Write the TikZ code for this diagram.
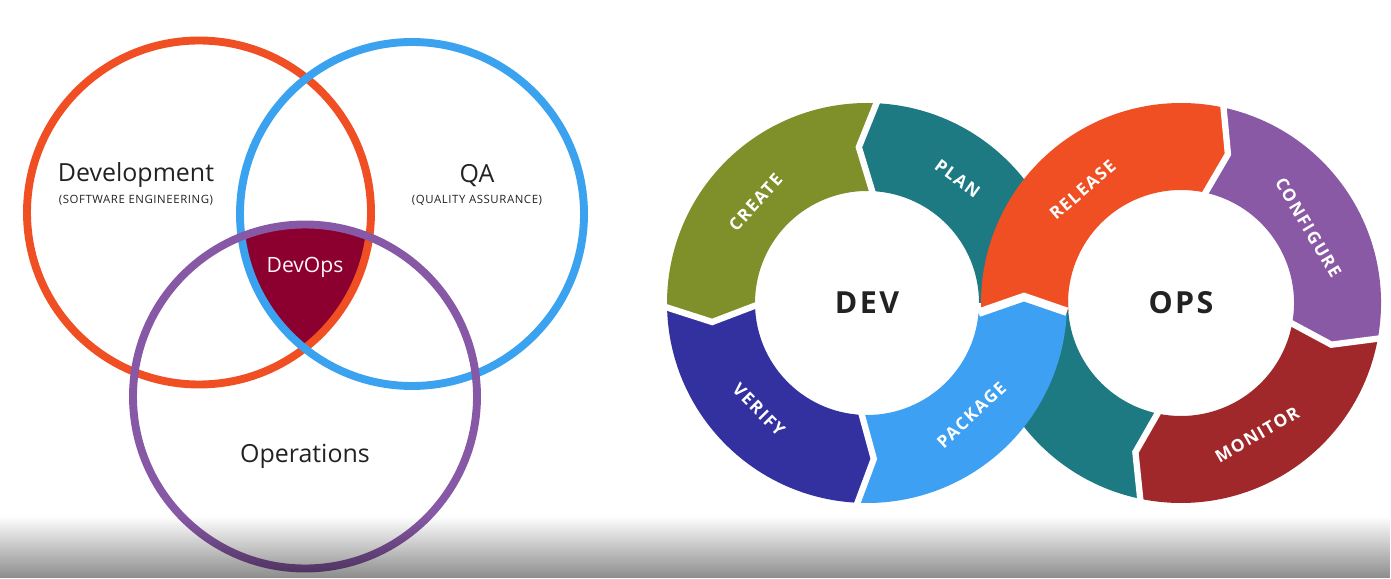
\documentclass[tikz,border=0pt]{standalone}
\usepackage{fontspec}
\setmainfont{Open Sans}
\usepackage{tikz}
\usetikzlibrary{fadings}

\definecolor{orangedev}{HTML}{F04E23}
\definecolor{bleuqa}{HTML}{3BA2F0}
\definecolor{violetops}{HTML}{8758A5}
\definecolor{bordeaux}{HTML}{8C0030}
\definecolor{olive}{HTML}{7F8F29}
\definecolor{sarcelle}{HTML}{1D7A83}
\definecolor{indigo}{HTML}{3331A0}
\definecolor{ciel}{HTML}{3DA0F2}
\definecolor{mauve}{HTML}{8A59A5}
\definecolor{brique}{HTML}{A1282A}
\definecolor{encre}{HTML}{222222}

\begin{document}
\begin{tikzpicture}[x=0.02cm, y=0.02cm,
  cercle/.style={line width=4.5pt},
  titre/.style={text=encre, font=\fontsize{14.2}{16}\selectfont},
  sous/.style={text=encre, font=\fontsize{6.5}{8}\selectfont\addfontfeature{LetterSpace=5}},
  etape/.style={text=white, font=\bfseries\fontsize{9.8}{11}\selectfont\addfontfeature{LetterSpace=9}},
  centre/.style={text=encre, font=\bfseries\fontsize{17.3}{20}\selectfont\addfontfeature{LetterSpace=8}},
  sep/.style={white, line width=3.6pt}]
  \useasboundingbox (0,0) rectangle (1391,578);

  % Centres du diagramme de Venn
  \coordinate (D) at (199,365.5);
  \coordinate (Q) at (412,364);
  \coordinate (O) at (305,181.5);
  % Zone commune : DevOps
  \begin{scope}
    \clip (D) circle (172);
    \clip (Q) circle (172);
    \fill[bordeaux] (O) circle (172);
  \end{scope}
  % Les trois cercles
  \draw[cercle, orangedev] (D) circle (172);
  \draw[cercle, bleuqa] (Q) circle (172);
  \draw[cercle, violetops] (O) circle (172);
  % Textes
  \node[titre, anchor=base] (tDev) at (136,396) {Development};
  \node[sous, anchor=base] (sDev) at (136,374) {(SOFTWARE ENGINEERING)};
  \node[titre, anchor=base] (tQA) at (477,395) {QA};
  \node[sous, anchor=base] (sQA) at (477,374) {(QUALITY ASSURANCE)};
  \node[anchor=base, text=pink!15, font=\fontsize{12}{14}\selectfont] (tDevOps) at (305,305) {DevOps};
  \node[titre, anchor=base] (tOps) at (305,116) {Operations};

  % Boucle : anneau DEV
  \begin{scope}[shift={(867,275)}]
    % Plan (passe sous Release)
    \fill[sarcelle] (0:200) arc[start angle=0, end angle=87, radius=200] -- (93:156)
      -- (87:112) arc[start angle=87, end angle=0, radius=112] -- cycle;
    % Create
    \fill[olive] (87:200) arc[start angle=87, end angle=181, radius=200] -- (187:156)
      -- (181:112) arc[start angle=181, end angle=87, radius=112] -- (93:156) -- cycle;
    % Verify
    \fill[indigo] (181:200) arc[start angle=181, end angle=267, radius=200] -- (272.5:156)
      -- (267:112) arc[start angle=267, end angle=181, radius=112] -- (187:156) -- cycle;
  \end{scope}
  % Boucle : anneau OPS
  \begin{scope}[shift={(1181,275)}]
    % retour vers Plan (passe sous Package)
    \fill[sarcelle] (258.5:200) arc[start angle=258.5, end angle=178, radius=200]
      -- (178:113) arc[start angle=178, end angle=258.5, radius=113] -- (253:156) -- cycle;
    % Configure
    \fill[mauve] (78:200) arc[start angle=78, end angle=-10, radius=200] -- (-15.5:156)
      -- (-10:113) arc[start angle=-10, end angle=78, radius=113] -- (72.5:156) -- cycle;
    % Monitor
    \fill[brique] (-10:200) arc[start angle=-10, end angle=-101.5, radius=200] -- (-107:156)
      -- (-101.5:113) arc[start angle=-101.5, end angle=-10, radius=113] -- (-15.5:156) -- cycle;
    % Release
    \fill[orangedev] (183:200) arc[start angle=183, end angle=78, radius=200] -- (72.5:156)
      -- (78:113) arc[start angle=78, end angle=184.5, radius=113] -- (-157,6) -- cycle;
    % Separations
    \draw[sep] (78:110) -- (72.5:156) -- (78:203);
    \draw[sep] (-10:110) -- (-15.5:156) -- (-10:203);
    \draw[sep] (-101.5:110) -- (-107:156) -- (-101.5:203);
    % Etiquettes
    \node[etape, rotate=41] (release) at (131:150) {RELEASE};
    \node[etape, rotate=-59.4] (configure) at (30.6:148) {CONFIGURE};
    \node[etape, rotate=30] (monitor) at (-60:152) {MONITOR};
    \node[centre] (ops) at (0,0) {OPS};
  \end{scope}
  \begin{scope}[shift={(867,275)}]
    % Package (par-dessus le retour)
    \fill[ciel] (267:200) arc[start angle=267, end angle=357.5, radius=200] -- (157,6)
      -- (355:112) arc[start angle=355, end angle=267, radius=112] -- (272.5:156) -- cycle;
    % Separations
    \draw[sep] (87:110) -- (93:156) -- (87:203);
    \draw[sep] (181:110) -- (187:156) -- (181:203);
    \draw[sep] (267:110) -- (272.5:156) -- (267:203);
    \draw[sep, line width=4.8pt] (355:112) -- (157,6) -- (357.5:200);
    % Etiquettes
    \node[etape, rotate=48] (create) at (138:150) {CREATE};
    \node[etape, rotate=-36] (plan) at (54:154) {PLAN};
    \node[etape, rotate=-45.3] (verify) at (224.7:152) {VERIFY};
    \node[etape, rotate=43] (package) at (313:153) {PACKAGE};
    \node[centre] (dev) at (0,0) {DEV};
  \end{scope}

  % Bande grise en bas
  \fill[black, fill opacity=0.45, path fading=north] (0,0) rectangle (1391,62);
\end{tikzpicture}
\end{document}
